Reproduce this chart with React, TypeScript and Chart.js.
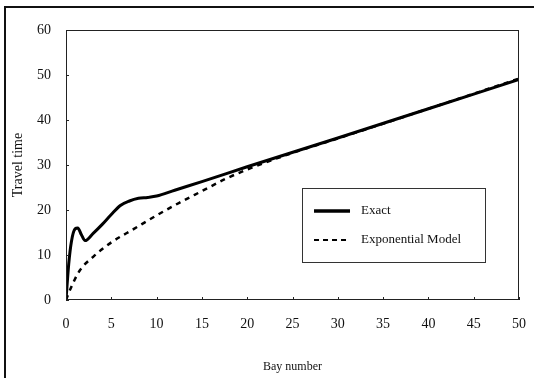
import React, { useEffect, useRef } from "react";
import { Chart, registerables } from "chart.js";

Chart.register(...registerables);

const exactX = [0, 0.3, 0.6, 1.0, 1.3, 1.7, 2.1, 3, 4, 5, 6, 7, 8, 9, 10, 12, 15, 20, 30, 40, 50];
const exactY = [0, 8, 13, 15.8, 16, 14.5, 13.2, 14.8, 16.8, 19, 21, 22, 22.6, 22.8, 23.1, 24.4, 26.3, 29.6, 36.0, 42.5, 49.0];

const modelX = [0, 0.5, 1.5, 3, 5, 7.5, 10, 12.5, 15, 17.7, 20, 25, 30, 40, 50];
const modelY = [0, 2.5, 6.5, 9.6, 12.8, 15.8, 18.8, 21.6, 24.2, 27.0, 29.0, 32.7, 35.9, 42.5, 49.2];

const xTicks = [0, 5, 10, 15, 20, 25, 30, 35, 40, 45, 50];
const yTicks = [0, 10, 20, 30, 40, 50, 60];

const labels = ["Exact", "Exponential Model"];
const xTitle = "Bay number";
const yTitle = "Travel time";

const FONT = "'Liberation Serif', 'Times New Roman', serif";

const framePlugin = {
  id: "frameLegend",
  afterDraw(chart: any) {
    const { ctx, chartArea: a, scales } = chart;
    ctx.save();
    ctx.strokeStyle = "#222";
    ctx.lineWidth = 1;
    ctx.strokeRect(a.left + 0.5, a.top + 0.5, a.right - a.left - 1, a.bottom - a.top - 1);
    ctx.beginPath();
    scales.x.ticks.forEach((t: any) => {
      const px = Math.round(scales.x.getPixelForValue(t.value)) + 0.5;
      ctx.moveTo(px, a.bottom);
      ctx.lineTo(px, a.bottom - 3);
    });
    scales.y.ticks.forEach((t: any) => {
      const py = Math.round(scales.y.getPixelForValue(t.value)) + 0.5;
      ctx.moveTo(a.left, py);
      ctx.lineTo(a.left + 3, py);
    });
    ctx.stroke();

    // legend box
    const w = a.right - a.left;
    const h = a.bottom - a.top;
    const bx = a.left + 0.521 * w;
    const by = a.top + 0.585 * h;
    const bw = 0.404 * w;
    const bh = 0.274 * h;
    ctx.fillStyle = "#fff";
    ctx.fillRect(bx, by, bw, bh);
    ctx.strokeStyle = "#333";
    ctx.lineWidth = 1;
    ctx.strokeRect(Math.round(bx) + 0.5, Math.round(by) + 0.5, Math.round(bw), Math.round(bh));
    const ds = chart.data.datasets;
    ds.forEach((d: any, i: number) => {
      const y = by + 23 + i * 29;
      ctx.beginPath();
      ctx.strokeStyle = "#000";
      ctx.lineWidth = i === 0 ? 3.5 : 2;
      ctx.setLineDash(i === 0 ? [] : [5, 4]);
      ctx.moveTo(bx + 12, y);
      ctx.lineTo(bx + 48, y);
      ctx.stroke();
      ctx.setLineDash([]);
      ctx.fillStyle = "#111";
      ctx.font = "13px " + FONT;
      ctx.textBaseline = "middle";
      ctx.textAlign = "left";
      ctx.fillText(d.label, bx + 59, y);
    });
    ctx.restore();
  },
};

export default function App() {
  const ref = useRef<HTMLCanvasElement>(null);
  useEffect(() => {
    const chart = new Chart(ref.current!, {
      type: "line",
      data: {
        datasets: [
          {
            label: labels[0],
            data: exactX.map((x, i) => ({ x, y: exactY[i] })),
            borderColor: "#000",
            borderWidth: 3,
            pointRadius: 0,
            tension: 0.4,
            cubicInterpolationMode: "monotone",
            fill: false,
          },
          {
            label: labels[1],
            data: modelX.map((x, i) => ({ x, y: modelY[i] })),
            borderColor: "#000",
            borderWidth: 2.5,
            borderDash: [5, 5],
            pointRadius: 0,
            tension: 0.4,
            cubicInterpolationMode: "monotone",
            fill: false,
          },
        ],
      },
      options: {
        animation: false,
        responsive: false,
        devicePixelRatio: 1,
        layout: { padding: { top: 30, right: 15, bottom: 0, left: 8 } },
        plugins: { legend: { display: false }, tooltip: { enabled: false } },
        scales: {
          x: {
            type: "linear",
            min: 0,
            max: 50,
            afterBuildTicks: (s: any) => {
              s.ticks = xTicks.map((v) => ({ value: v }));
            },
            afterFit: (s: any) => {
              s.height = 78;
              s.paddingLeft = 0;
              s.paddingRight = 0;
            },
            grid: { display: false, drawTicks: false },
            border: { display: false },
            ticks: { padding: 16, color: "#111", font: { family: FONT, size: 14 }, maxRotation: 0 },
            title: {
              display: true,
              text: xTitle,
              color: "#111",
              font: { family: FONT, size: 12 },
              padding: { top: 0, bottom: 4 },
            },
          },
          y: {
            type: "linear",
            min: 0,
            max: 60,
            afterBuildTicks: (s: any) => {
              s.ticks = yTicks.map((v) => ({ value: v }));
            },
            afterFit: (s: any) => {
              s.width = 58;
              s.paddingTop = 0;
              s.paddingBottom = 0;
            },
            grid: { display: false, drawTicks: false },
            border: { display: false },
            ticks: { padding: 15, color: "#111", font: { family: FONT, size: 14 } },
            title: {
              display: true,
              text: yTitle,
              color: "#111",
              font: { family: FONT, size: 14 },
              padding: { top: 2, bottom: 0 },
            },
          },
        },
      },
      plugins: [framePlugin],
    } as any);
    return () => chart.destroy();
  }, []);
  return (
    <div style={{ position: "fixed", left: 0, top: 0, width: 534, height: 378, background: "#fff" }}>
      <canvas ref={ref} width={534} height={378} style={{ position: "absolute", left: 0, top: 0 }} />
      <div
        style={{
          position: "absolute",
          left: 4,
          top: 6,
          width: 530,
          height: 372,
          borderTop: "2px solid #111",
          borderLeft: "2px solid #111",
          boxSizing: "border-box",
          pointerEvents: "none",
        }}
      />
    </div>
  );
}
